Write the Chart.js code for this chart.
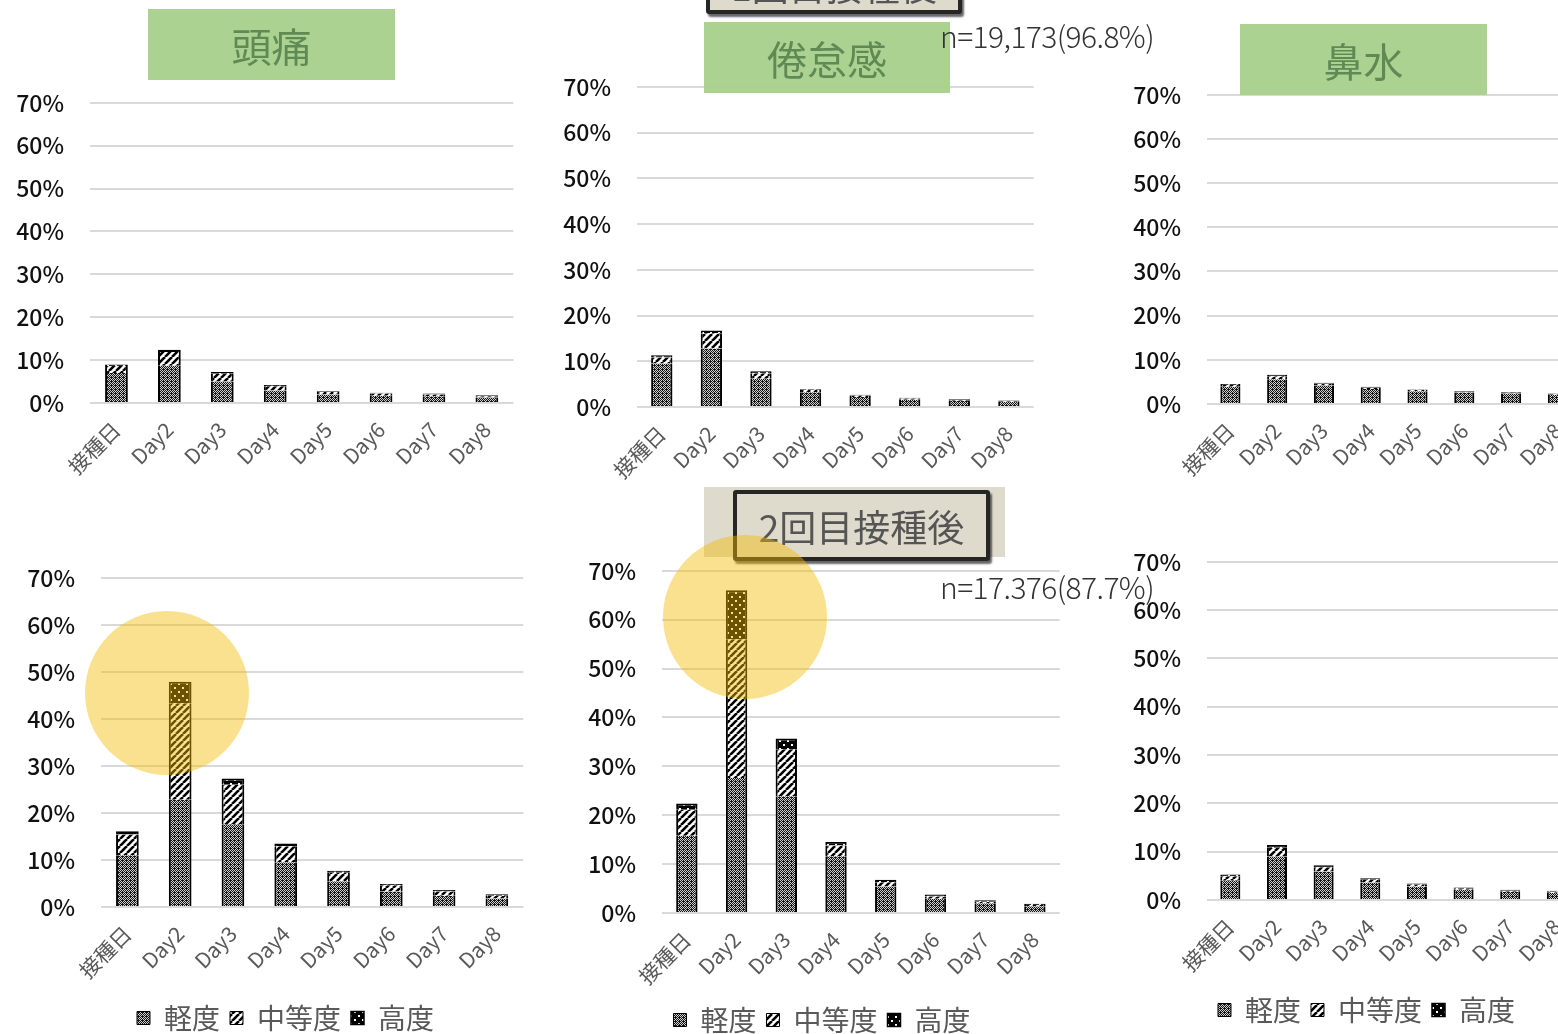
<!DOCTYPE html>
<html>
<head>
<meta charset="utf-8">
<script src="https://cdn.jsdelivr.net/npm/chart.js@4.4.0/dist/chart.umd.min.js"></script>
<style>
    html, body {
        margin: 0;
        padding: 0;
        background: #fff;
        width: 1558px;
        height: 1034px;
        overflow: hidden;
        position: relative;
        font-family: "Noto Sans CJK JP", "Noto Sans", sans-serif;
    }
    canvas { position: absolute; }
    .title {
        position: absolute;
        background: rgba(169, 209, 142, 0.97);
        color: #5f8a54;
        font-size: 40px;
        display: flex;
        align-items: center;
        justify-content: center;
        z-index: 2;
    }
    .dose-bg {
        position: absolute;
        background: #dedacc;
        z-index: 2;
    }
    .dose {
        position: absolute;
        box-sizing: border-box;
        border: 4px solid #262626;
        border-radius: 3px;
        background: #dedacc;
        color: #555;
        font-size: 37px;
        display: flex;
        align-items: center;
        justify-content: center;
        box-shadow: 2px 3px 2px rgba(0, 0, 0, 0.6);
        z-index: 3;
    }
    .count {
        position: absolute;
        color: #333;
        font-size: 30px;
        font-weight: 300;
        letter-spacing: -0.6px;
        z-index: 3;
        line-height: 1;
    }
    .spot {
        position: absolute;
        border-radius: 50%;
        background: rgba(243, 186, 0, 0.44);
        z-index: 5;
    }
</style>
</head>
<body>

<div class="dose" style="left:706px; top:-44px; width:256px; height:58px;">1回目接種後</div>
<div class="title" style="left:148px; top:9px; width:247px; height:71px;">頭痛</div>
<div class="title" style="left:704px; top:22px; width:246px; height:71px;">倦怠感</div>
<div class="title" style="left:1240px; top:24px; width:247px; height:71px;">鼻水</div>
<div class="count" style="left:940px; top:20px;">n=19,173(96.8%)</div>

<div class="dose-bg" style="left:704px; top:487px; width:301px; height:70px;"></div>
<div class="dose" style="left:733px; top:490px; width:257px; height:71px;">2回目接種後</div>
<div class="count" style="left:940px; top:571px;">n=17.376(87.7%)</div>

<div class="spot" style="left:85px; top:611px; width:164px; height:164px;"></div>
<div class="spot" style="left:663px; top:535px; width:164px; height:164px;"></div>

<script>
// categories and severity levels
const days = ['接種日', 'Day2', 'Day3', 'Day4', 'Day5', 'Day6', 'Day7', 'Day8'];
const levels = ['軽度', '中等度', '高度'];
const yTicks = [0, 10, 20, 30, 40, 50, 60, 70];

// 1回目接種後 (%)
const headacheMild1     = [7.0, 8.7, 5.0, 2.9, 2.0, 1.7, 1.6, 1.3];
const headacheModerate1 = [1.6, 3.2, 1.8, 1.0, 0.6, 0.5, 0.4, 0.3];
const headacheSevere1   = [0.4, 0.5, 0.4, 0.3, 0.2, 0.2, 0.2, 0.2];

const fatigueMild1     = [9.5, 12.8, 6.2, 3.2, 2.2, 1.6, 1.35, 1.1];
const fatigueModerate1 = [1.3, 3.3, 1.2, 0.5, 0.3, 0.25, 0.2, 0.15];
const fatigueSevere1   = [0.5, 0.6, 0.4, 0.2, 0.2, 0.15, 0.15, 0.15];

const noseMild1     = [3.9, 5.6, 4.2, 3.4, 2.9, 2.6, 2.4, 2.1];
const noseModerate1 = [0.4, 0.7, 0.4, 0.3, 0.25, 0.2, 0.15, 0.15];
const noseSevere1   = [0.2, 0.3, 0.2, 0.2, 0.15, 0.15, 0.15, 0.15];

// 2回目接種後 (%)
const headacheMild2     = [11.0, 22.8, 17.6, 9.5, 5.5, 3.3, 2.4, 1.8];
const headacheModerate2 = [4.4, 20.5, 8.4, 3.4, 1.8, 1.3, 0.9, 0.6];
const headacheSevere2   = [0.7, 4.6, 1.3, 0.6, 0.4, 0.3, 0.3, 0.3];

const fatigueMild2     = [15.8, 27.6, 23.9, 11.6, 5.4, 2.9, 2.0, 1.4];
const fatigueModerate2 = [5.3, 28.4, 9.6, 2.2, 0.9, 0.5, 0.3, 0.25];
const fatigueSevere2   = [1.3, 10.0, 2.2, 0.7, 0.5, 0.4, 0.3, 0.25];

const noseMild2     = [4.1, 9.0, 5.9, 3.6, 2.8, 2.1, 1.7, 1.5];
const noseModerate2 = [0.8, 1.8, 0.9, 0.6, 0.35, 0.25, 0.2, 0.2];
const noseSevere2   = [0.4, 0.6, 0.4, 0.3, 0.25, 0.25, 0.2, 0.2];

Chart.defaults.font.family = '"Noto Sans CJK JP", "Noto Sans", sans-serif';

// fill patterns like the Excel hatches
function makePattern(kind) {
    const tile = document.createElement('canvas');
    const g = tile.getContext('2d');
    if (kind === 'mild') {
        tile.width = tile.height = 4;
        g.fillStyle = '#cfcfcf';
        g.fillRect(0, 0, 4, 4);
        g.fillStyle = '#151515';
        for (let x = 0; x < 4; x++) {
            for (let y = 0; y < 4; y++) {
                if ((x + y) % 2 === 0 || (x === 1 && y === 2)) g.fillRect(x, y, 1, 1);
            }
        }
    } else if (kind === 'moderate') {
        tile.width = tile.height = 7;
        g.fillStyle = '#fff';
        g.fillRect(0, 0, 7, 7);
        g.strokeStyle = '#000';
        g.lineWidth = 2.6;
        for (const o of [-7, 0, 7]) {
            g.beginPath();
            g.moveTo(o, 7);
            g.lineTo(o + 7, 0);
            g.stroke();
        }
    } else {
        tile.width = tile.height = 8;
        g.fillStyle = '#000';
        g.fillRect(0, 0, 8, 8);
        g.fillStyle = '#fff';
        g.fillRect(1, 1, 2, 2);
        g.fillRect(5, 5, 2, 2);
    }
    return g.createPattern(tile, 'repeat');
}

const fills = [makePattern('mild'), makePattern('moderate'), makePattern('severe')];
const borders = [
    { left: 2, right: 2, top: 0, bottom: 0 },
    { left: 2, right: 2, top: 0, bottom: 0 },
    { left: 2, right: 2, top: 2, bottom: 0 }
];

// plot = [left, top, right, bottom] of the plot area on the page
const panels = [
    { series: [headacheMild1, headacheModerate1, headacheSevere1], plot: [90, 103, 514, 403], xh: 90, legend: false, shift: 0 },
    { series: [fatigueMild1, fatigueModerate1, fatigueSevere1], plot: [637, 87, 1036, 407], xh: 90, legend: false, shift: 0 },
    { series: [noseMild1, noseModerate1, noseSevere1], plot: [1207, 95, 1585, 404], xh: 90, legend: false, shift: 0 },
    { series: [headacheMild2, headacheModerate2, headacheSevere2], plot: [101, 578, 524, 907], xh: 87, legend: true, shift: 23 },
    { series: [fatigueMild2, fatigueModerate2, fatigueSevere2], plot: [662, 571, 1062, 913], xh: 83, legend: true, shift: 10 },
    { series: [noseMild2, noseModerate2, noseSevere2], plot: [1207, 562, 1584, 900], xh: 86, legend: true, shift: 21 }
];

const yw = 100, padTop = 20, topGap = 20, padR = 5, legendH = 48, padB = 10;

panels.forEach(p => {
    const [l, t, r, b] = p.plot;
    const canvas = document.createElement('canvas');
    canvas.width = yw + (r - l) + padR;
    canvas.height = padTop + topGap + (b - t) + p.xh + (p.legend ? legendH : 0) + padB;
    canvas.style.left = (l - yw) + 'px';
    canvas.style.top = (t - padTop - topGap) + 'px';
    document.body.appendChild(canvas);

    const datasets = p.series.map((data, i) => ({
        label: levels[i],
        data: data,
        backgroundColor: fills[i],
        borderColor: '#000',
        borderWidth: borders[i],
        borderSkipped: false,
        categoryPercentage: 1,
        barPercentage: 0.43
    }));

    new Chart(canvas, {
        type: 'bar',
        data: { labels: days, datasets: datasets },
        options: {
            responsive: false,
            animation: false,
            layout: { padding: { left: 0, top: padTop, right: padR, bottom: padB } },
            plugins: {
                tooltip: { enabled: false },
                legend: {
                    display: p.legend,
                    position: 'bottom',
                    labels: {
                        boxWidth: 13,
                        boxHeight: 13,
                        padding: 10,
                        color: '#595959',
                        font: { size: 28 }
                    }
                }
            },
            scales: {
                x: {
                    stacked: true,
                    grid: { display: false, drawTicks: false },
                    border: { display: false },
                    ticks: {
                        autoSkip: false,
                        minRotation: 45,
                        maxRotation: 45,
                        padding: 14,
                        color: '#595959',
                        font: { size: 21 }
                    },
                    afterFit: s => { s.height = p.xh; }
                },
                y: {
                    stacked: true,
                    min: yTicks[0],
                    max: yTicks[yTicks.length - 1],
                    grid: { color: '#d9d9d9', lineWidth: 2, drawTicks: false },
                    border: { display: false },
                    afterBuildTicks: s => { s.ticks = yTicks.map(v => ({ value: v })); },
                    ticks: {
                        padding: 26,
                        color: '#111',
                        font: { size: 23, weight: '500' },
                        callback: v => v + '%'
                    },
                    afterFit: s => { s.width = yw; }
                }
            }
        },
        plugins: [{
            id: 'legendShift',
            afterLayout(chart) {
                if (chart.legend && p.shift) {
                    chart.legend.left += p.shift;
                    chart.legend.right += p.shift;
                }
            }
        }]
    });
});
</script>
</body>
</html>
